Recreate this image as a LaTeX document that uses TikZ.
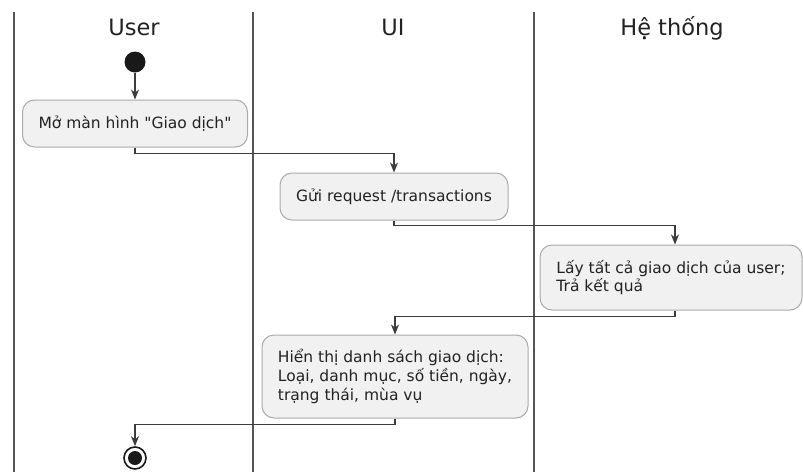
\documentclass[tikz,border=0pt]{standalone}
\usepackage{fontspec}
\setmainfont{DejaVu Sans}[Ligatures=TeXOff]
\usetikzlibrary{arrows.meta}
\definecolor{laneline}{HTML}{555555}
\definecolor{flowline}{HTML}{3C3C3C}
\definecolor{actfill}{HTML}{F1F1F1}
\definecolor{actborder}{HTML}{AAAAAA}
\definecolor{txt}{HTML}{222222}
\begin{document}
\begin{tikzpicture}[x=1pt,y=-1pt,
  lane/.style={draw=laneline,line width=2.4pt},
  lanetitle/.style={anchor=base,text=txt,font=\fontsize{22.5}{27}\selectfont,inner sep=0pt},
  act/.style={draw=actborder,fill=actfill,line width=1pt,rounded corners=12pt,
    align=left,text=txt,font=\fontsize{15.5}{18.7}\selectfont,inner sep=0pt},
  flow/.style={draw=flowline,line width=1.4pt,-{Stealth[length=10pt,width=8pt,inset=3pt]}},
]
\useasboundingbox (0,0) rectangle (803,472);

% swimlane separators
\draw[lane] (14,12) -- (14,472);
\draw[lane] (253,12) -- (253,472);
\draw[lane] (534,12) -- (534,472);

% swimlane titles
\node[lanetitle] (tuser) at (134,35) {User};
\node[lanetitle] (tui) at (393,35) {UI};
\node[lanetitle] (tsys) at (672,35) {Hệ thống};

% start and end
\node[circle,fill=black!90,minimum size=21pt,inner sep=0pt] (start) at (135,62) {};
\node[circle,draw=black!90,line width=1.6pt,fill=white,minimum size=22pt,inner sep=0pt] (stop) at (135,458) {};
\fill[black!90] (stop.center) circle (7pt);

% activities
\node[act,minimum width=225pt,minimum height=47pt] (b1) at (135,123.5) {Mở màn hình "Giao dịch"};
\node[act,minimum width=228pt,minimum height=47pt] (b2) at (394,196.5) {Gửi request /transactions};
\node[act,minimum width=262pt,minimum height=65pt] (b3) at (671,277.5)
  {Lấy tất cả giao dịch của user;\\Trả kết quả};
\node[act,minimum width=266pt,minimum height=83pt] (b4) at (395,376.5)
  {Hiển thị danh sách giao dịch:\\Loại, danh mục, số tiền, ngày,\\trạng thái, mùa vụ};

% control flow
\draw[flow] (start.south) -- (b1.north);
\draw[flow] (b1.south) -- ++(0,6) -| (b2.north);
\draw[flow] (b2.south) -- ++(0,5) -| ([xshift=4pt]b3.north);
\draw[flow] ([xshift=4pt]b3.south) -- ++(0,6) -| (b4.north);
\draw[flow] (b4.south) -- ++(0,6) -| (stop.north);
\end{tikzpicture}
\end{document}
